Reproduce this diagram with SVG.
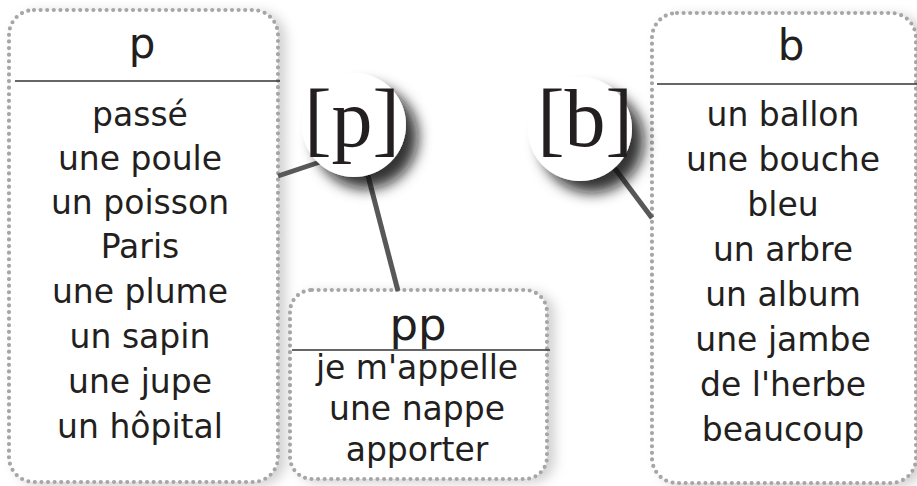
<svg xmlns="http://www.w3.org/2000/svg" width="917" height="486" viewBox="0 0 917 486">
<defs>
<filter id="boxShadow" x="-10%" y="-10%" width="130%" height="130%">
<feDropShadow dx="7" dy="3" stdDeviation="6" flood-color="#000" flood-opacity="0.18"/>
</filter>
<filter id="circShadow" x="-60%" y="-60%" width="230%" height="230%">
<feDropShadow dx="12" dy="12" stdDeviation="7" flood-color="#111" flood-opacity="0.85"/>
</filter>
<style>
.box{fill:#fff;stroke:#a6a6a6;stroke-width:4.2;stroke-linecap:round;stroke-dasharray:0 6.6;}
.sep{stroke:#333;stroke-width:1.6;fill:none;}
.conn{stroke:#585858;stroke-width:5;fill:none;}
.word{font-family:"DejaVu Sans","Noto Sans",sans-serif;font-size:33px;fill:#231f20;text-anchor:middle;}
.head{font-family:"DejaVu Sans","Noto Sans",sans-serif;font-size:42px;fill:#231f20;text-anchor:middle;}
.circ{fill:#fff;}
.ipa{font-family:"Liberation Serif","DejaVu Serif",serif;font-size:82px;fill:#231f20;text-anchor:middle;}
</style>
</defs>
<rect width="917" height="486" fill="#fff"/>

<g id="box-p" filter="url(#boxShadow)">
<rect class="box" x="9" y="10" width="269" height="472" rx="25"/>
</g>
<g id="box-p-content">
<line class="sep" x1="15" y1="81" x2="280" y2="81"/>
<text class="head" x="142" y="58">p</text>
<text class="word" x="140" y="126">passé</text>
<text class="word" x="140" y="170">une poule</text>
<text class="word" x="140" y="214">un poisson</text>
<text class="word" x="140" y="258">Paris</text>
<text class="word" x="140" y="303">une plume</text>
<text class="word" x="140" y="348">un sapin</text>
<text class="word" x="140" y="393">une jupe</text>
<text class="word" x="140" y="438">un hôpital</text>
</g>

<g id="box-b" filter="url(#boxShadow)">
<rect class="box" x="652" y="13" width="264" height="470" rx="25"/>
</g>
<g id="box-b-content">
<line class="sep" x1="657" y1="84" x2="917" y2="84"/>
<text class="head" x="791" y="60">b</text>
<text class="word" x="783" y="126">un ballon</text>
<text class="word" x="783" y="171">une bouche</text>
<text class="word" x="783" y="216">bleu</text>
<text class="word" x="783" y="261">un arbre</text>
<text class="word" x="783" y="306">un album</text>
<text class="word" x="783" y="351">une jambe</text>
<text class="word" x="783" y="396">de l'herbe</text>
<text class="word" x="783" y="441">beaucoup</text>
</g>

<g id="box-pp" filter="url(#boxShadow)">
<rect class="box" x="290" y="290" width="257" height="189" rx="22"/>
</g>
<g id="box-pp-content">
<text class="head" x="418" y="340" style="font-size:45px">pp</text>
<line class="sep" x1="292" y1="350" x2="550" y2="350"/>
<text class="word" x="417" y="379">je m'appelle</text>
<text class="word" x="417" y="420">une nappe</text>
<text class="word" x="417" y="461">apporter</text>
</g>

<g id="connectors">
<line class="conn" x1="278" y1="176" x2="320" y2="162"/>
<line class="conn" x1="366" y1="168" x2="398" y2="291"/>
<line class="conn" x1="610" y1="162" x2="652" y2="218"/>
</g>

<g id="circle-p">
<circle class="circ" cx="354" cy="125" r="52" filter="url(#circShadow)"/>
<text class="ipa" x="352" y="146">[p]</text>
</g>
<g id="circle-b">
<circle class="circ" cx="580" cy="129" r="52" filter="url(#circShadow)"/>
<text class="ipa" x="585" y="146">[b]</text>
</g>
</svg>
